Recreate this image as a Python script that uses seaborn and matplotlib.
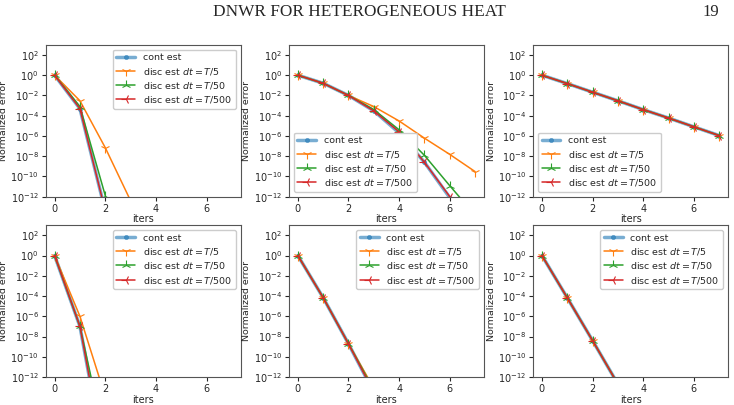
import matplotlib
matplotlib.use("Agg")
import seaborn as sns
import matplotlib.pyplot as plt

sns.set_style("ticks")
plt.rcParams["font.family"] = ["DejaVu Sans"]

# values, one panel per block
iters = [0, 1, 2, 3, 4, 5, 6, 7]

a_cont = [1.0, 5e-4, 4e-14]
a_t5 = [1.0, 3e-3, 7e-8, 4e-13]
a_t50 = [1.0, 8e-4, 1.3e-12, 1e-20]
a_t500 = [1.0, 5e-4, 4e-14]

b_cont = [1.0, 0.16, 1e-2, 3e-4, 2e-6, 2.5e-9, 8e-13, 1e-16]
b_t5 = [1.0, 0.16, 1e-2, 8e-4, 3e-5, 6e-7, 1.5e-8, 3e-10]
b_t50 = [1.0, 0.16, 1e-2, 4e-4, 4e-6, 1.2e-8, 1.2e-11, 1.5e-14]
b_t500 = [1.0, 0.16, 1e-2, 3e-4, 2.5e-6, 2.5e-9, 1e-12, 1.3e-16]

c_all = [1.0, 0.15, 2.1e-2, 3e-3, 4e-4, 5.9e-5, 8e-6, 1.1e-6]

d_cont = [1.0, 1e-7, 3e-21]
d_t5 = [1.0, 1e-6, 1.2e-14]
d_t50 = [1.0, 1e-7, 4e-19]
d_t500 = [1.0, 1e-7, 3e-21]

e_cont = [1.0, 6.8e-5, 1.9e-9, 3e-14]
e_t5 = [1.0, 6.8e-5, 1.9e-9, 8e-14]
e_t50 = [1.0, 6.8e-5, 1.9e-9, 5e-14]
e_t500 = [1.0, 6.8e-5, 1.9e-9, 3e-14]

f_all = [1.0, 6.8e-5, 4e-9, 2e-13]

labels = ["cont est", "disc est $dt = T/5$", "disc est $dt = T/50$", "disc est $dt = T/500$"]
colors = ["#1f77b4", "#ff7f0e", "#2ca02c", "#d62728"]
markers = ["o", "1", "2", "3"]

panels = [
    ([a_cont, a_t5, a_t50, a_t500], "upper right"),
    ([b_cont, b_t5, b_t50, b_t500], "lower left"),
    ([c_all, c_all, c_all, c_all], "lower left"),
    ([d_cont, d_t5, d_t50, d_t500], "upper right"),
    ([e_cont, e_t5, e_t50, e_t500], "upper right"),
    ([f_all, f_all, f_all, f_all], "upper right"),
]

lefts = [0.0623, 0.3937, 0.7262]
bottoms = [0.5143, 0.0691]

fig = plt.figure(figsize=(7.34, 4.05), dpi=100)

for k, (series, loc) in enumerate(panels):
    ax = fig.add_axes([lefts[k % 3], bottoms[k // 3], 0.2657, 0.375])
    for s, lab, col, mk in zip(series, labels, colors, markers):
        if mk == "o":
            sns.lineplot(x=iters[:len(s)], y=s, ax=ax, label=lab, color=col,
                         marker=mk, markersize=3, linewidth=2.5, alpha=0.6,
                         markeredgecolor=col, markerfacecolor=col,
                         markeredgewidth=0.5)
        else:
            sns.lineplot(x=iters[:len(s)], y=s, ax=ax, label=lab, color=col,
                         marker=mk, markersize=6.5, linewidth=1.1,
                         markeredgecolor=col, markeredgewidth=0.8)
    ax.set_yscale("log")
    ax.set_ylim(1e-12, 1e3)
    ax.set_xlim(-0.35, 7.35)
    ax.set_xticks([0, 2, 4, 6])
    ax.set_yticks([1e-12, 1e-10, 1e-8, 1e-6, 1e-4, 1e-2, 1e0, 1e2])
    ax.minorticks_off()
    ax.tick_params(labelsize=7, length=3, pad=2)
    ax.set_xlabel("iters", fontsize=7, labelpad=0.5)
    ax.set_ylabel("Normalized error", fontsize=6.8, labelpad=1.5)
    for sp in ax.spines.values():
        sp.set_color("#555555")
        sp.set_linewidth(0.8)
    ax.legend(loc=loc, fontsize=6.8, framealpha=1.0, edgecolor="#cccccc",
              handlelength=2.0, borderpad=0.4, labelspacing=0.35)

fig.text(0.49, 0.97, "DNWR FOR HETEROGENEOUS HEAT", family="Liberation Serif",
         fontsize=12.4, ha="center", va="center")
fig.text(0.98, 0.97, "19", family="Liberation Serif", fontsize=12,
         ha="right", va="center")

fig.savefig("out.png", dpi=100)
